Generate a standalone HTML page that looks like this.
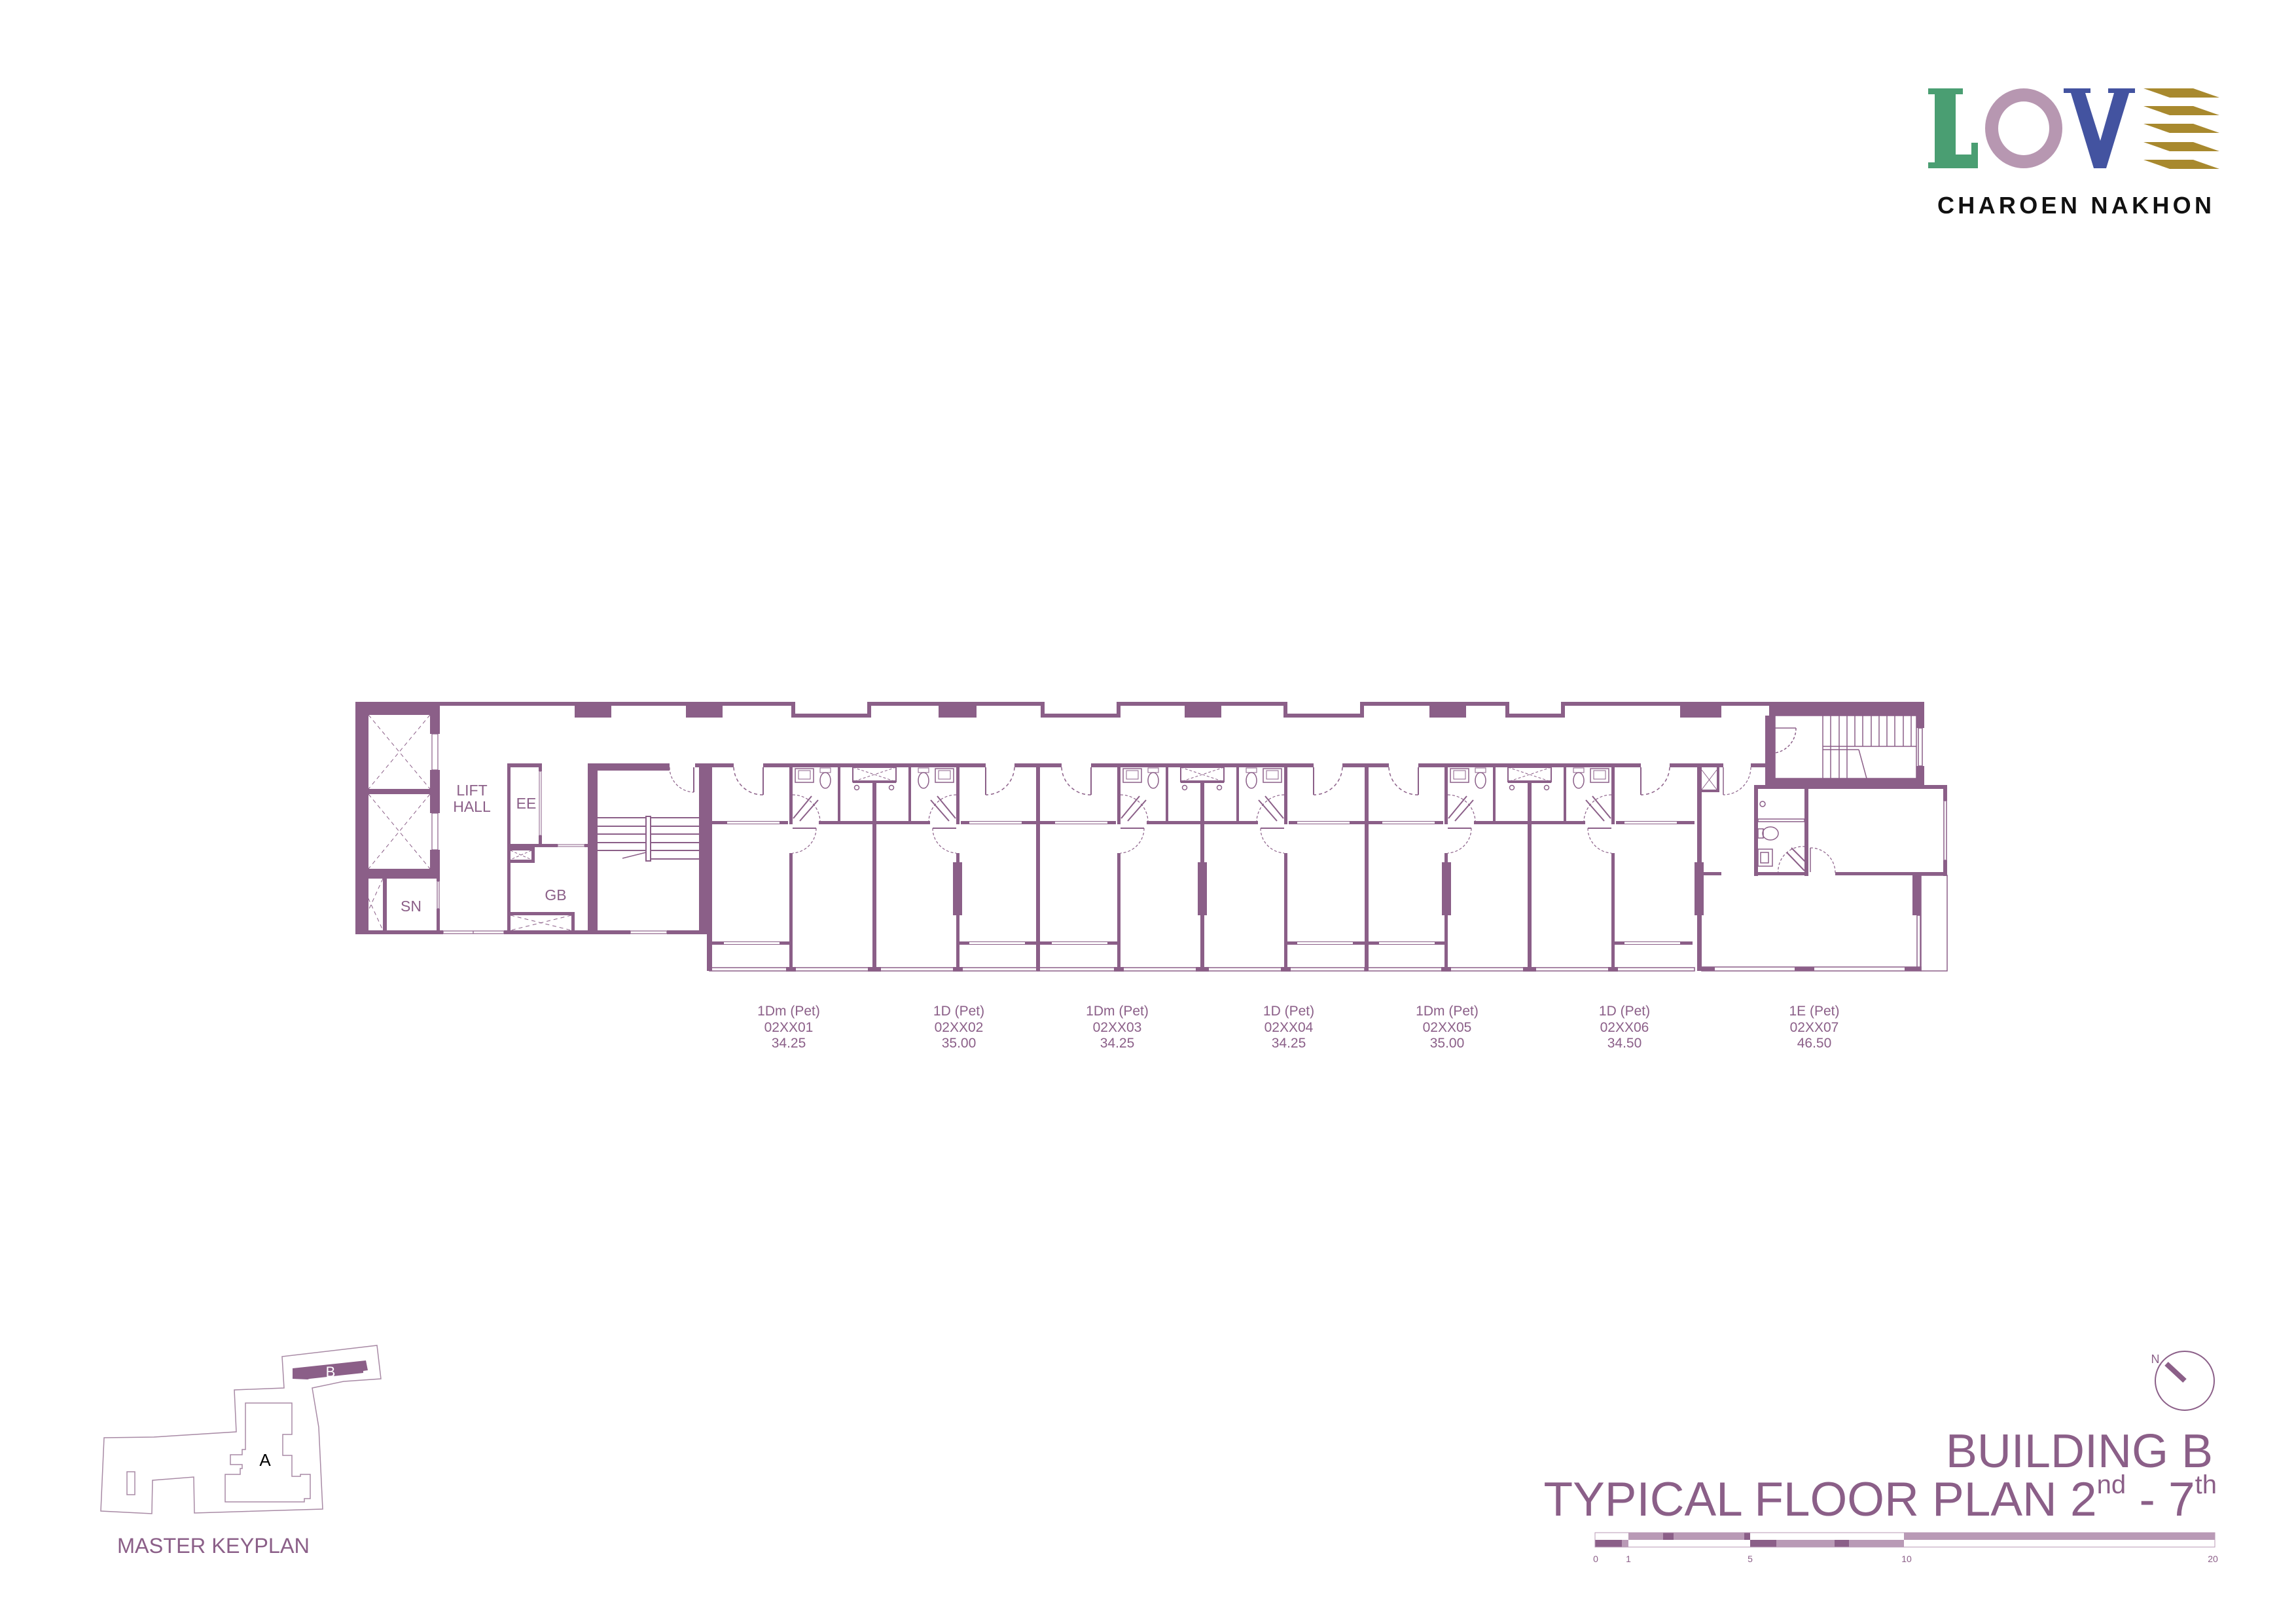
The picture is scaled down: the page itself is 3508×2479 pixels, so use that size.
<!DOCTYPE html>
<html><head><meta charset="utf-8"><style>
html,body{margin:0;padding:0;background:#fff;}
svg{display:block;}
text{font-family:"Liberation Sans",Arial,sans-serif;}
</style></head><body>
<svg width="3508" height="2479" viewBox="0 0 3508 2479" xmlns="http://www.w3.org/2000/svg">
<defs>
<g id="pair">
  <rect x="-252" y="1166" width="37" height="6" fill="#8b5f88"/>
  <rect x="-170" y="1166" width="340" height="6" fill="#8b5f88"/>
  <rect x="214" y="1166" width="38" height="6" fill="#8b5f88"/>
  <line x1="-170" y1="1172" x2="-170" y2="1214" stroke="#8b5f88" stroke-width="2"/>
  <path d="M -215 1172 A 44 44 0 0 0 -170 1214" fill="none" stroke="#8b5f88" stroke-width="1.5" stroke-dasharray="5 4"/>
  <line x1="170" y1="1172" x2="170" y2="1214" stroke="#8b5f88" stroke-width="2"/>
  <path d="M 214 1172 A 44 44 0 0 1 170 1214" fill="none" stroke="#8b5f88" stroke-width="1.5" stroke-dasharray="5 4"/>
  <rect x="-130" y="1172" width="5" height="87" fill="#8b5f88"/>
  <rect x="-130" y="1303" width="5" height="180" fill="#8b5f88"/>
  <rect x="125" y="1172" width="5" height="87" fill="#8b5f88"/>
  <rect x="125" y="1303" width="5" height="180" fill="#8b5f88"/>
  <rect x="-252" y="1254" width="120" height="5" fill="#8b5f88"/>
  <rect x="-85" y="1254" width="170" height="5" fill="#8b5f88"/>
  <rect x="132" y="1254" width="120" height="5" fill="#8b5f88"/>
  <rect x="-225" y="1255" width="80" height="3" fill="#fff"/>
  <rect x="145" y="1255" width="80" height="3" fill="#fff"/>
  <rect x="-3" y="1172" width="6" height="311" fill="#8b5f88"/>
  <rect x="-33" y="1172" width="66" height="22" fill="#fff" stroke="#8b5f88" stroke-width="2"/>
  <rect x="-33" y="1192" width="66" height="4" fill="#8b5f88"/>
  <path d="M -33 1172 L 33 1194 M 33 1172 L -33 1194" stroke="#8b5f88" stroke-width="1" stroke-dasharray="4 3"/>
  <circle cx="-27" cy="1203" r="3.5" fill="none" stroke="#8b5f88" stroke-width="1.5"/>
  <circle cx="26" cy="1203" r="3.5" fill="none" stroke="#8b5f88" stroke-width="1.5"/>
  <rect x="-56" y="1172" width="4" height="82" fill="#8b5f88"/>
  <rect x="52" y="1172" width="4" height="82" fill="#8b5f88"/>
  <rect x="-121" y="1174" width="28" height="21" fill="none" stroke="#8b5f88" stroke-width="1.5"/>
  <rect x="-116" y="1177" width="18" height="13" fill="none" stroke="#8b5f88" stroke-width="1"/>
  <ellipse cx="-75" cy="1192" rx="8" ry="12" fill="none" stroke="#8b5f88" stroke-width="1.5"/>
  <rect x="-83" y="1173" width="16" height="7" fill="none" stroke="#8b5f88" stroke-width="1"/>
  <rect x="93" y="1174" width="28" height="21" fill="none" stroke="#8b5f88" stroke-width="1.5"/>
  <rect x="98" y="1177" width="18" height="13" fill="none" stroke="#8b5f88" stroke-width="1"/>
  <ellipse cx="75" cy="1192" rx="8" ry="12" fill="none" stroke="#8b5f88" stroke-width="1.5"/>
  <rect x="67" y="1173" width="16" height="7" fill="none" stroke="#8b5f88" stroke-width="1"/>
  <path d="M -124 1250 L -96 1216 M -114 1254 L -86 1222" stroke="#8b5f88" stroke-width="2"/>
  <path d="M -125 1214 A 42 42 0 0 1 -83 1254" fill="none" stroke="#8b5f88" stroke-width="1.2" stroke-dasharray="4 3"/>
  <path d="M 124 1250 L 96 1216 M 114 1254 L 86 1222" stroke="#8b5f88" stroke-width="2"/>
  <path d="M 125 1214 A 42 42 0 0 0 83 1254" fill="none" stroke="#8b5f88" stroke-width="1.2" stroke-dasharray="4 3"/>
  <line x1="-125" y1="1265" x2="-89" y2="1265" stroke="#8b5f88" stroke-width="2"/>
  <path d="M -89 1265 A 38 38 0 0 1 -125 1303" fill="none" stroke="#8b5f88" stroke-width="1.2" stroke-dasharray="4 3"/>
  <line x1="125" y1="1265" x2="89" y2="1265" stroke="#8b5f88" stroke-width="2"/>
  <path d="M 89 1265 A 38 38 0 0 0 125 1303" fill="none" stroke="#8b5f88" stroke-width="1.2" stroke-dasharray="4 3"/>
  <rect x="-249" y="1438" width="119" height="5" fill="#8b5f88"/>
  <rect x="-230" y="1439" width="85" height="3" fill="#fff"/>
  <rect x="130" y="1438" width="119" height="5" fill="#8b5f88"/>
  <rect x="145" y="1439" width="85" height="3" fill="#fff"/>
  <rect x="-252" y="1478" width="504" height="5" fill="none" stroke="#8b5f88" stroke-width="1.5"/>
  <rect x="-135" y="1477" width="15" height="7" fill="#8b5f88"/>
  <rect x="120" y="1477" width="15" height="7" fill="#8b5f88"/>
  <rect x="-10" y="1477" width="20" height="7" fill="#8b5f88"/>
</g>
</defs>

<g fill="#8b5f88">
  <rect x="543" y="1072" width="669" height="6"/>
  <rect x="1209" y="1072" width="6" height="24"/>
  <rect x="1209" y="1090" width="121" height="6"/>
  <rect x="1325" y="1072" width="6" height="24"/>
  <rect x="1325" y="1072" width="268" height="6"/>
  <rect x="1590" y="1072" width="6" height="24"/>
  <rect x="1590" y="1090" width="119" height="6"/>
  <rect x="1706" y="1072" width="6" height="24"/>
  <rect x="1706" y="1072" width="258" height="6"/>
  <rect x="1961" y="1072" width="6" height="24"/>
  <rect x="1961" y="1090" width="120" height="6"/>
  <rect x="2078" y="1072" width="6" height="24"/>
  <rect x="2078" y="1072" width="225" height="6"/>
  <rect x="2300" y="1072" width="6" height="24"/>
  <rect x="2300" y="1090" width="88" height="6"/>
  <rect x="2385" y="1072" width="6" height="24"/>
  <rect x="2385" y="1072" width="555" height="6"/>
  <rect x="878" y="1078" width="56" height="18"/>
  <rect x="1048" y="1078" width="56" height="18"/>
  <rect x="1434" y="1078" width="58" height="18"/>
  <rect x="1810" y="1078" width="56" height="18"/>
  <rect x="2184" y="1078" width="56" height="18"/>
  <rect x="2567" y="1078" width="63" height="18"/>
</g>

<g fill="#8b5f88">
  <rect x="543" y="1072" width="129" height="20"/>
  <rect x="543" y="1072" width="20" height="355"/>
  <rect x="657" y="1092" width="15" height="29"/>
  <rect x="657" y="1176" width="15" height="66"/>
  <rect x="657" y="1298" width="15" height="44"/>
  <rect x="563" y="1205" width="94" height="8"/>
  <rect x="543" y="1327" width="129" height="15"/>
  <rect x="585" y="1342" width="6" height="79"/>
  <rect x="667" y="1342" width="5" height="4"/>
  <rect x="667" y="1388" width="5" height="33"/>
  <rect x="543" y="1421" width="134" height="6"/>
  <rect x="770" y="1421" width="193" height="6"/>
  <rect x="1019" y="1421" width="69" height="6"/>
</g>
<g fill="none" stroke="#8b5f88" stroke-width="1.2">
  <rect x="660" y="1121" width="9" height="55"/>
  <rect x="660" y="1242" width="9" height="56"/>
  <rect x="668" y="1346" width="3" height="42"/>
  <rect x="677" y="1422" width="93" height="4"/>
  <rect x="963" y="1422" width="56" height="4"/>
  <line x1="723" y1="1422" x2="723" y2="1426"/>
</g>
<g fill="none" stroke="#8b5f88" stroke-width="1" stroke-dasharray="6 5">
  <path d="M 563 1092 L 657 1205 M 657 1092 L 563 1205"/>
  <path d="M 563 1213 L 657 1327 M 657 1213 L 563 1327"/>
  <path d="M 549 1342 L 585 1421 M 585 1342 L 549 1421"/>
</g>
<g fill="#8b5f88">
  <rect x="775" y="1166" width="53" height="6"/>
  <rect x="775" y="1166" width="5" height="261"/>
  <rect x="823" y="1166" width="5" height="12"/>
  <rect x="823" y="1276" width="5" height="13"/>
  <rect x="775" y="1289" width="77" height="5"/>
  <rect x="893" y="1289" width="5" height="5"/>
  <rect x="780" y="1294" width="37" height="5"/>
  <rect x="812" y="1294" width="5" height="23"/>
  <rect x="780" y="1313" width="37" height="5"/>
  <rect x="780" y="1393" width="98" height="5"/>
  <rect x="873" y="1393" width="5" height="28"/>
</g>
<g fill="none" stroke="#8b5f88" stroke-width="1">
  <rect x="824" y="1178" width="3" height="98"/>
  <rect x="852" y="1290" width="41" height="3"/>
  <path d="M 780 1299 L 812 1313 M 812 1299 L 780 1313" stroke-dasharray="4 3"/>
  <path d="M 780 1398 L 873 1421 M 873 1398 L 780 1421" stroke-dasharray="6 5"/>
</g>
<g fill="#8b5f88">
  <rect x="898" y="1166" width="15" height="261"/>
  <rect x="898" y="1166" width="125" height="11"/>
  <rect x="1062" y="1166" width="26" height="6"/>
  <rect x="1068" y="1172" width="20" height="255"/>
  <rect x="1082" y="1166" width="6" height="317"/>
</g>
<g stroke="#8b5f88" stroke-width="2" fill="none">
  <line x1="913" y1="1249" x2="1068" y2="1249"/>
  <line x1="913" y1="1262" x2="1068" y2="1262"/>
  <line x1="913" y1="1274" x2="1068" y2="1274"/>
  <line x1="913" y1="1287" x2="1068" y2="1287"/>
  <line x1="913" y1="1299" x2="1068" y2="1299"/>
  <line x1="994" y1="1312" x2="1068" y2="1312"/>
  <rect x="987" y="1247" width="7" height="68" fill="#fff"/>
  <line x1="951" y1="1311" x2="987" y2="1302" stroke-width="1.5"/>
  <line x1="1060" y1="1172" x2="1060" y2="1210"/>
  <path d="M 1023 1172 A 38 38 0 0 0 1060 1210" stroke-width="1.2" stroke-dasharray="4 3"/>
</g>
<use href="#pair" x="1336"/>
<use href="#pair" x="1837"/>
<use href="#pair" x="2337"/>
<g fill="#8b5f88">
  <rect x="1080" y="1166" width="8" height="317"/>
  <rect x="1583" y="1166" width="6" height="317"/>
  <rect x="2085" y="1166" width="6" height="317"/>
  <rect x="2593" y="1166" width="7" height="317"/>
  <rect x="1456" y="1317" width="14" height="81"/>
  <rect x="1830" y="1317" width="14" height="81"/>
  <rect x="2203" y="1317" width="14" height="81"/>
  <rect x="2589" y="1317" width="14" height="81"/>
</g>

<g fill="#8b5f88">
  <rect x="2589" y="1166" width="44" height="6"/>
  <rect x="2675" y="1166" width="34" height="6"/>
  <rect x="2596" y="1172" width="4" height="38"/>
  <rect x="2596" y="1206" width="31" height="4"/>
  <rect x="2623" y="1172" width="4" height="38"/>
  <rect x="2697" y="1093" width="15" height="106"/>
  <rect x="2703" y="1072" width="237" height="21"/>
  <rect x="2928" y="1093" width="12" height="19"/>
  <rect x="2928" y="1170" width="12" height="29"/>
  <rect x="2703" y="1189" width="237" height="10"/>
  <rect x="2680" y="1199" width="295" height="6"/>
  <rect x="2680" y="1199" width="6" height="139"/>
  <rect x="2757" y="1199" width="6" height="139"/>
  <rect x="2969" y="1199" width="6" height="24"/>
  <rect x="2969" y="1314" width="6" height="24"/>
  <rect x="2600" y="1332" width="30" height="5"/>
  <rect x="2680" y="1332" width="83" height="5"/>
  <rect x="2804" y="1332" width="171" height="5"/>
  <rect x="2922" y="1337" width="13" height="61"/>
  <rect x="2600" y="1477" width="335" height="6" fill="none" stroke="#8b5f88" stroke-width="1.5"/>
  <rect x="2600" y="1477" width="20" height="6"/>
  <rect x="2742" y="1477" width="30" height="6"/>
  <rect x="2910" y="1477" width="25" height="6"/>
</g>
<g fill="none" stroke="#8b5f88" stroke-width="1.5">
  <rect x="2712" y="1093" width="216" height="96"/>
  <rect x="2931" y="1112" width="6" height="58"/>
  <rect x="2970" y="1223" width="4" height="91"/>
  <rect x="2935" y="1337" width="40" height="146"/>
  <rect x="2929" y="1398" width="5" height="80"/>
  <rect x="2686" y="1251" width="71" height="4"/>
  <circle cx="2693" cy="1228" r="4"/>
  <ellipse cx="2705" cy="1273" rx="12" ry="10"/>
  <rect x="2686" y="1266" width="8" height="14"/>
  <rect x="2686" y="1297" width="22" height="26"/>
  <rect x="2690" y="1302" width="12" height="16"/>
  <line x1="2712" y1="1112" x2="2744" y2="1112"/>
  <path d="M 2744 1112 A 38 38 0 0 1 2712 1150" stroke-dasharray="4 3"/>
  <path d="M 2730 1302 L 2757 1330 M 2737 1295 L 2760 1318" stroke-width="2"/>
  <path d="M 2717 1335 A 38 38 0 0 1 2757 1293" stroke-dasharray="4 3" stroke-width="1.2"/>
  <line x1="2766" y1="1295" x2="2766" y2="1332"/>
  <path d="M 2766 1295 A 38 38 0 0 1 2804 1333" stroke-dasharray="4 3" stroke-width="1.2"/>
  <line x1="2633" y1="1172" x2="2633" y2="1214"/>
  <path d="M 2675 1172 A 42 42 0 0 1 2633 1214" stroke-dasharray="4 3" stroke-width="1.2"/>
  <path d="M 2600 1176 L 2623 1206 M 2623 1176 L 2600 1206" stroke-width="1"/>
  <line x1="2785" y1="1140" x2="2928" y2="1140"/>
  <line x1="2785" y1="1145" x2="2840" y2="1145"/>
  <line x1="2840" y1="1145" x2="2852" y2="1189"/>
</g>
<g stroke="#8b5f88" stroke-width="1.5">
  <line x1="2785" y1="1093" x2="2785" y2="1189"/>
  <line x1="2797" y1="1093" x2="2797" y2="1189"/>
  <line x1="2810" y1="1093" x2="2810" y2="1189"/>
  <line x1="2822" y1="1093" x2="2822" y2="1189"/>
  <line x1="2834" y1="1093" x2="2834" y2="1140"/>
  <line x1="2846" y1="1093" x2="2846" y2="1140"/>
  <line x1="2859" y1="1093" x2="2859" y2="1140"/>
  <line x1="2871" y1="1093" x2="2871" y2="1140"/>
  <line x1="2883" y1="1093" x2="2883" y2="1140"/>
  <line x1="2895" y1="1093" x2="2895" y2="1140"/>
  <line x1="2908" y1="1093" x2="2908" y2="1140"/>
  <line x1="2920" y1="1093" x2="2920" y2="1140"/>
</g>

<g fill="#8b5f88" font-size="23" text-anchor="middle">
  <text x="721" y="1215">LIFT</text>
  <text x="721" y="1240">HALL</text>
  <text x="804" y="1235">EE</text>
  <text x="849" y="1375">GB</text>
  <text x="628" y="1392">SN</text>
</g>

<g fill="#8b5f88" font-size="21" text-anchor="middle">
  <text x="1205" y="1551">1Dm (Pet)</text><text x="1205" y="1576">02XX01</text><text x="1205" y="1600">34.25</text>
  <text x="1465" y="1551">1D (Pet)</text><text x="1465" y="1576">02XX02</text><text x="1465" y="1600">35.00</text>
  <text x="1707" y="1551">1Dm (Pet)</text><text x="1707" y="1576">02XX03</text><text x="1707" y="1600">34.25</text>
  <text x="1969" y="1551">1D (Pet)</text><text x="1969" y="1576">02XX04</text><text x="1969" y="1600">34.25</text>
  <text x="2211" y="1551">1Dm (Pet)</text><text x="2211" y="1576">02XX05</text><text x="2211" y="1600">35.00</text>
  <text x="2482" y="1551">1D (Pet)</text><text x="2482" y="1576">02XX06</text><text x="2482" y="1600">34.50</text>
  <text x="2772" y="1551">1E (Pet)</text><text x="2772" y="1576">02XX07</text><text x="2772" y="1600">46.50</text>
</g>

<!-- LOGO -->
<path d="M 2946 135 L 2999 135 L 2999 144 L 2988 144 L 2988 236 L 3012 236 L 3012 218 L 3022 218 L 3022 257 L 2946 257 L 2946 248 L 2956 248 L 2956 144 L 2946 144 Z" fill="#4a9e72"/>
<ellipse cx="3092" cy="196" rx="49" ry="51" fill="none" stroke="#b797b1" stroke-width="20"/>
<path d="M 3153 135 L 3194 135 L 3194 142 L 3186 142 L 3209 215 L 3230 142 L 3221 142 L 3221 135 L 3262 135 L 3262 142 L 3253 142 L 3218 257 L 3199 257 L 3164 142 L 3153 142 Z" fill="#4353a0"/>
<g fill="#a8892e">
  <polygon points="3275,135 3351,135 3391,149 3315,149"/>
  <polygon points="3275,162 3351,162 3391,176 3315,176"/>
  <polygon points="3275,189 3351,189 3391,203 3315,203"/>
  <polygon points="3275,217 3351,217 3391,231 3315,231"/>
  <polygon points="3275,244 3351,244 3391,258 3315,258"/>
</g>
<text x="2960" y="326" font-size="36" font-weight="bold" fill="#111" textLength="419" lengthAdjust="spacing">CHAROEN NAKHON</text>

<!-- KEYPLAN -->
<g fill="none" stroke="#a88aa5" stroke-width="1.5">
  <polygon points="159,2196 235,2195 361,2187 358,2123 434,2120 431,2072 576,2055 582,2106 525,2110 477,2120 487,2180 493,2305 297,2311 296,2256 233,2261 232,2312 154,2308"/>
  <rect x="194" y="2248" width="12" height="35"/>
  <polygon points="375,2143 446,2143 446,2191 432,2191 432,2223 446,2223 446,2255 459,2255 459,2252 474,2252 474,2289 465,2289 465,2294 344,2294 344,2252 367,2252 367,2243 370,2243 370,2237 352,2237 352,2222 370,2222 370,2214 375,2214"/>
</g>
<polygon points="447,2090 559,2078 562,2093 555,2094 555,2097 473,2106 470,2107 447,2106" fill="#8b5f88"/>
<text x="505" y="2103" font-size="22" fill="#fff" text-anchor="middle">B</text>
<text x="405" y="2239" font-size="26" fill="#000" text-anchor="middle">A</text>
<text x="179" y="2372" font-size="32" fill="#8b5f88" textLength="294" lengthAdjust="spacingAndGlyphs">MASTER KEYPLAN</text>

<!-- COMPASS -->
<circle cx="3338" cy="2109" r="45" fill="none" stroke="#8b5f88" stroke-width="2"/>
<line x1="3310" y1="2083" x2="3338" y2="2109" stroke="#8b5f88" stroke-width="8"/>
<text x="3293" y="2082" font-size="18" fill="#8b5f88" text-anchor="middle">N</text>

<!-- TITLE -->
<text x="3381" y="2241" font-size="72" fill="#8b5f88" text-anchor="end">BUILDING B</text>
<text x="3387" y="2315" font-size="73" fill="#8b5f88" text-anchor="end">TYPICAL FLOOR PLAN 2<tspan font-size="40" dy="-34">nd</tspan><tspan dy="34"> - 7</tspan><tspan font-size="40" dy="-34">th</tspan></text>

<!-- SCALE BAR -->
<g>
  <rect x="2437" y="2341" width="947" height="11" fill="#b99ab6"/>
  <rect x="2437" y="2341" width="51" height="11" fill="#fff"/>
  <rect x="2674" y="2341" width="235" height="11" fill="#fff"/>
  <rect x="2541" y="2341" width="16" height="11" fill="#8b5f88"/>
  <rect x="2665" y="2341" width="9" height="11" fill="#8b5f88"/>
  <rect x="2437" y="2352" width="947" height="11" fill="#fff"/>
  <rect x="2437" y="2352" width="41" height="11" fill="#8b5f88"/>
  <rect x="2478" y="2352" width="10" height="11" fill="#b99ab6"/>
  <rect x="2674" y="2352" width="40" height="11" fill="#8b5f88"/>
  <rect x="2714" y="2352" width="89" height="11" fill="#b99ab6"/>
  <rect x="2803" y="2352" width="22" height="11" fill="#8b5f88"/>
  <rect x="2825" y="2352" width="84" height="11" fill="#b99ab6"/>
  <rect x="2437" y="2341" width="947" height="22" fill="none" stroke="#b99ab6" stroke-width="1"/>
</g>
<g font-size="14" fill="#8b5f88" text-anchor="middle">
  <text x="2438" y="2386">0</text>
  <text x="2488" y="2386">1</text>
  <text x="2674" y="2386">5</text>
  <text x="2913" y="2386">10</text>
  <text x="3381" y="2386">20</text>
</g>
</svg>
</body></html>
